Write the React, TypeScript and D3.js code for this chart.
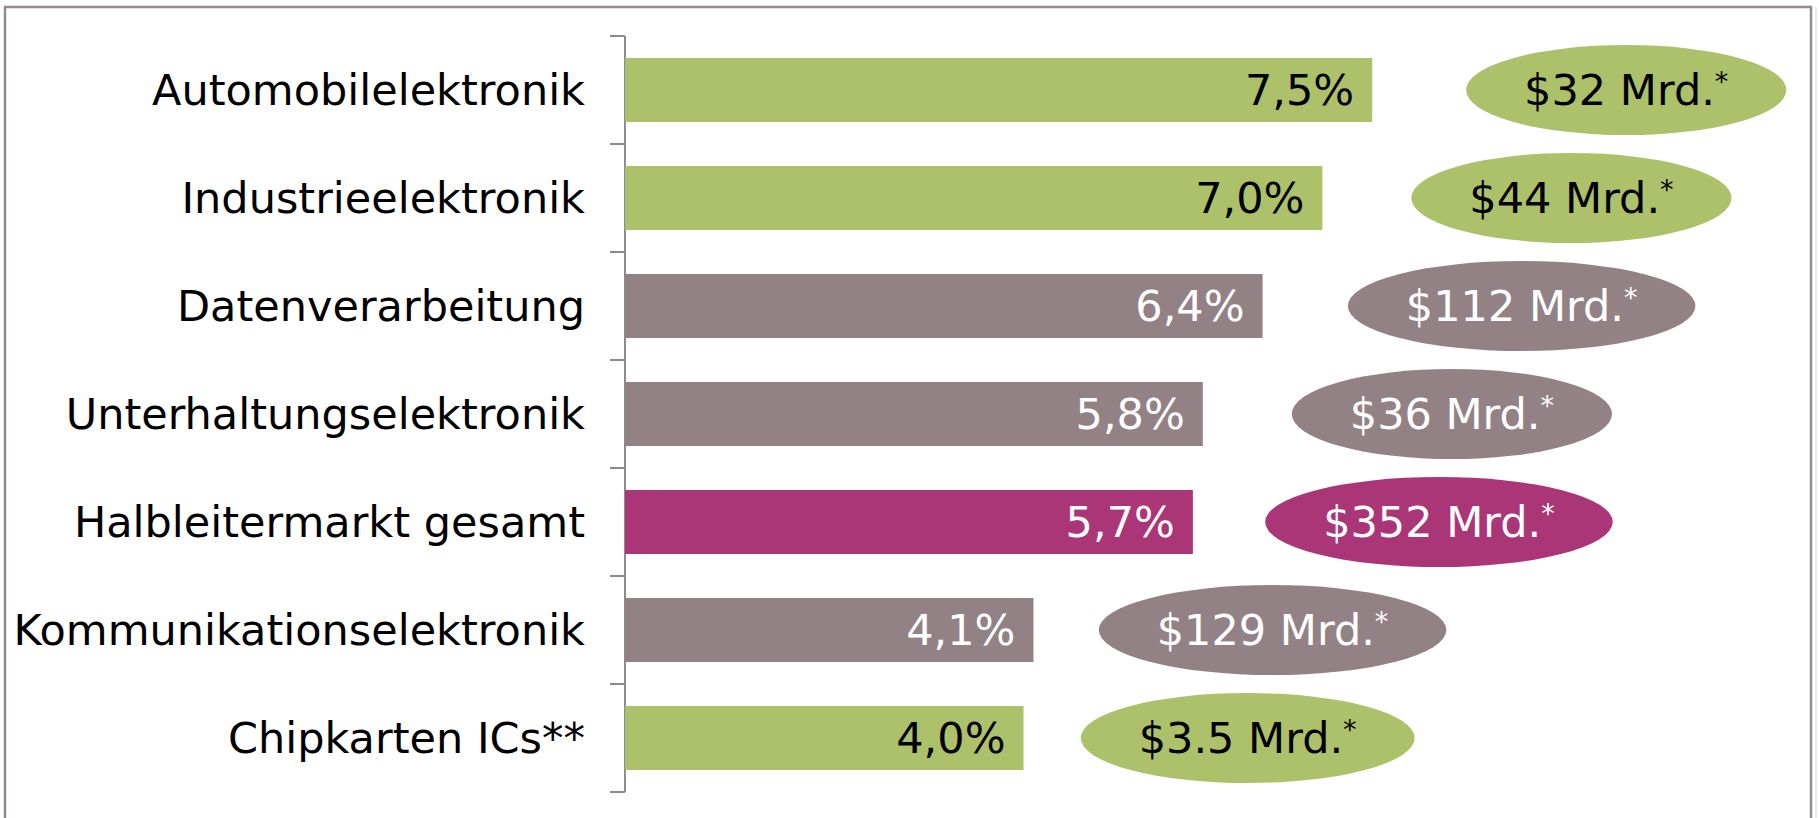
import React, { useEffect, useRef } from "react";
import * as d3 from "d3";

// growth rates by application segment
const categories = [
  "Automobilelektronik",
  "Industrieelektronik",
  "Datenverarbeitung",
  "Unterhaltungselektronik",
  "Halbleitermarkt gesamt",
  "Kommunikationselektronik",
  "Chipkarten ICs**",
];
const growth = [7.5, 7.0, 6.4, 5.8, 5.7, 4.1, 4.0];
const growthLabels = ["7,5%", "7,0%", "6,4%", "5,8%", "5,7%", "4,1%", "4,0%"];
const marketSize = ["$32 Mrd.", "$44 Mrd.", "$112 Mrd.", "$36 Mrd.", "$352 Mrd.", "$129 Mrd.", "$3.5 Mrd."];
// where each market-size bubble sits, in axis units (%)
const bubbleAt = [10.05, 9.5, 9.0, 8.3, 8.17, 6.5, 6.25];
const kind = ["green", "green", "grey", "grey", "total", "grey", "green"];

const palette: Record<string, { fill: string; text: string }> = {
  green: { fill: "#adc06a", text: "#000000" },
  grey: { fill: "#938285", text: "#ffffff" },
  total: { fill: "#aa3677", text: "#ffffff" },
};

const W = 1819;
const H = 818;

function App(): JSX.Element {
  const ref = useRef<SVGSVGElement>(null);

  useEffect(() => {
    if (!ref.current) return;
    const svg = d3.select(ref.current);
    svg.selectAll("*").remove();

    const font = "'DejaVu Sans', Verdana, sans-serif";
    const fontSize = "43px";
    const axisX = 625;

    const x = d3.scaleLinear().domain([0, 8]).range([axisX, axisX + 797]);
    const y = d3
      .scaleBand<string>()
      .domain(categories)
      .range([36, 792])
      .paddingInner(0.407)
      .paddingOuter(0.2035);

    // frame
    svg
      .append("rect")
      .attr("x", 5)
      .attr("y", 7)
      .attr("width", 1806)
      .attr("height", 830)
      .attr("fill", "none")
      .attr("stroke", "#968a8e")
      .attr("stroke-width", 2.5);
    svg
      .append("line")
      .attr("x1", 1816)
      .attr("x2", 1816)
      .attr("y1", 7)
      .attr("y2", H)
      .attr("stroke", "#d8d8d8")
      .attr("stroke-width", 1);

    // category axis with ticks at band boundaries
    const step = y.step();
    const boundaries = categories.map((c) => y(c)! - (step - y.bandwidth()) / 2);
    boundaries.push(boundaries[boundaries.length - 1] + step);
    const axis = svg.append("g");
    axis
      .append("line")
      .attr("x1", axisX)
      .attr("x2", axisX)
      .attr("y1", boundaries[0])
      .attr("y2", boundaries[boundaries.length - 1])
      .attr("stroke", "#8c8c8c")
      .attr("stroke-width", 2);
    axis
      .selectAll("line.tick")
      .data(boundaries)
      .enter()
      .append("line")
      .attr("class", "tick")
      .attr("x1", axisX - 15)
      .attr("x2", axisX)
      .attr("y1", (d) => d)
      .attr("y2", (d) => d)
      .attr("stroke", "#8c8c8c")
      .attr("stroke-width", 2);

    axis
      .selectAll("text.cat")
      .data(categories)
      .enter()
      .append("text")
      .attr("class", "cat")
      .attr("x", axisX - 40)
      .attr("y", (d) => y(d)! + y.bandwidth() / 2)
      .attr("dy", "0.36em")
      .attr("text-anchor", "end")
      .style("font-family", font)
      .style("font-size", fontSize)
      .attr("fill", "#000")
      .text((d) => d);

    // bars
    const rows = categories.map((c, i) => ({
      c,
      v: growth[i],
      label: growthLabels[i],
      size: marketSize[i],
      at: bubbleAt[i],
      col: palette[kind[i]],
    }));

    svg
      .selectAll("rect.bar")
      .data(rows)
      .enter()
      .append("rect")
      .attr("class", "bar")
      .attr("x", x(0))
      .attr("y", (d) => y(d.c)!)
      .attr("width", (d) => x(d.v) - x(0))
      .attr("height", y.bandwidth())
      .attr("fill", (d) => d.col.fill);

    svg
      .selectAll("text.val")
      .data(rows)
      .enter()
      .append("text")
      .attr("class", "val")
      .attr("x", (d) => x(d.v) - 18)
      .attr("y", (d) => y(d.c)! + y.bandwidth() / 2)
      .attr("dy", "0.36em")
      .attr("text-anchor", "end")
      .style("font-family", font)
      .style("font-size", fontSize)
      .attr("fill", (d) => d.col.text)
      .text((d) => d.label);

    // market size bubbles
    const bubbles = svg
      .selectAll("g.bubble")
      .data(rows)
      .enter()
      .append("g")
      .attr("class", "bubble")
      .attr(
        "transform",
        (d) => `translate(${x(d.at)},${y(d.c)! + y.bandwidth() / 2})`
      );

    const ell = bubbles.append("ellipse").attr("ry", 45).attr("fill", (d) => d.col.fill);

    const txt = bubbles
      .append("text")
      .attr("text-anchor", "middle")
      .attr("dy", "0.36em")
      .style("font-family", font)
      .style("font-size", fontSize)
      .attr("fill", (d) => d.col.text);
    txt.append("tspan").text((d) => d.size);
    txt
      .append("tspan")
      .attr("dy", "-0.55em")
      .style("font-size", "27px")
      .text("*");

    txt.each(function (_, i) {
      const w = (this as SVGTextElement).getComputedTextLength();
      d3.select(ell.nodes()[i]).attr("rx", w / 2 + 58);
    });
  }, []);

  return (
    <svg
      ref={ref}
      width={W}
      height={H}
      style={{ position: "absolute", left: 0, top: 0, background: "#fff" }}
    />
  );
}

export default App;
